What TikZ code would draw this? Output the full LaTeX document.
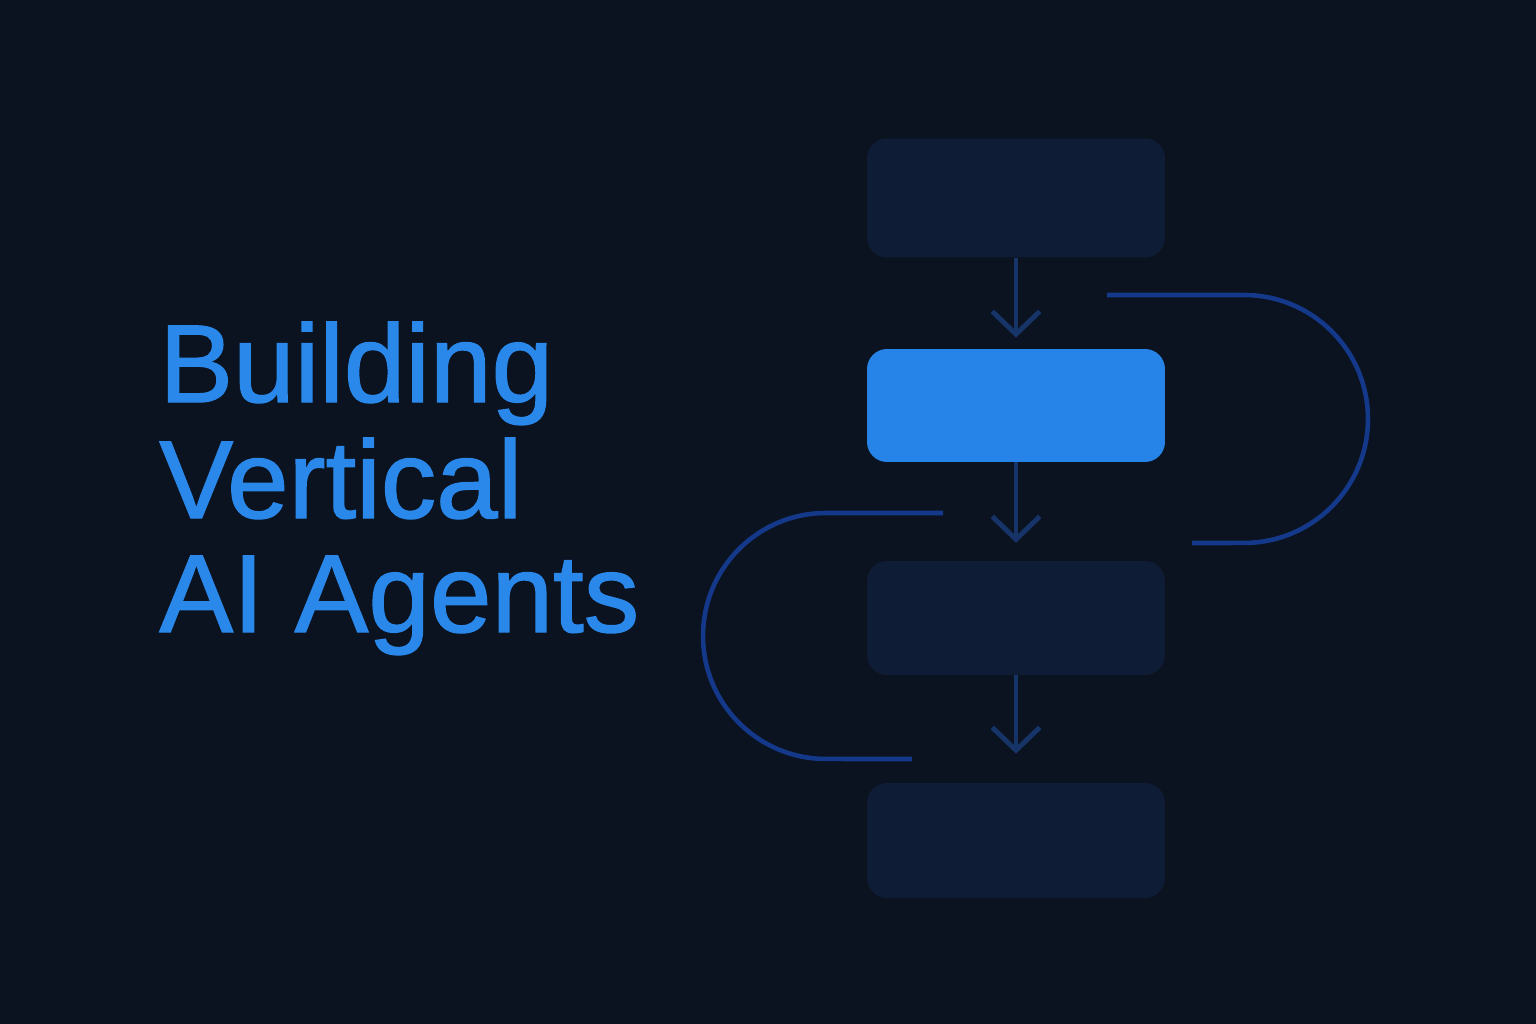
\documentclass[tikz,border=0pt]{standalone}
\usepackage{fontspec}
\setmainfont{Liberation Sans}
\newfontfamily\titlefont[FakeBold=1.2]{Liberation Sans}
\usetikzlibrary{positioning,calc}
\usetikzlibrary{arrows.meta}

\definecolor{bgdark}{HTML}{0B1320}
\definecolor{stepdark}{HTML}{0E1C36}
\definecolor{stepbright}{HTML}{2683E8}
\definecolor{flowline}{HTML}{163468}
\definecolor{loopline}{HTML}{15398A}
\definecolor{titleblue}{HTML}{2A88EA}

\tikzset{
  stepbox/.style = {rectangle, rounded corners=0.4cm, minimum width=5.96cm, inner sep=0pt},
  flow/.style = {draw=flowline, line width=2.8pt, -{Straight Barb[length=13pt,width=27pt]}},
  loop/.style = {draw=loopline, line width=2.6pt},
  title/.style = {anchor=base west, inner sep=0pt, text=titleblue, font=\titlefont\fontsize{63}{70}\selectfont}
}

\begin{document}
\begin{tikzpicture}[x=0.02cm, y=-0.02cm]
  % Background
  \fill[bgdark] (0,0) rectangle (1536,1024);
  \useasboundingbox (0,0) rectangle (1536,1024);

  % Title
  \node[title] (line1) at (159,402) {Building};
  \node[title] (line2) at (159,518) {Vertical};
  \node[title] (line3) at (159,632) {AI Agents};

  % The steps
  \node[stepbox, fill=stepdark, minimum height=2.38cm] (s1) at (1016,198) {};
  \node[stepbox, fill=stepbright, minimum height=2.26cm] (s2) at (1016,405.5) {};
  \node[stepbox, fill=stepdark, minimum height=2.28cm] (s3) at (1016,618) {};
  \node[stepbox, fill=stepdark, minimum height=2.30cm] (s4) at (1016,840.5) {};

  % Arrows
  \draw[flow, shorten >=6.3pt] (s1.south) -- (s2.north);
  \draw[flow, shorten >=10.2pt] (s2.south) -- (s3.north);
  \draw[flow, shorten >=16.5pt] (s3.south) -- (s4.north);

  % Loops
  \coordinate (rtop) at (1107,295);
  \coordinate (rbot) at (1192,543);
  \coordinate (ltop) at (943,513);
  \coordinate (lbot) at (912,759);
  \draw[loop] (rtop) -- (1244,295) arc[start angle=90, end angle=-90, radius=2.48cm] -- (rbot);
  \draw[loop] (ltop) -- (826,513) arc[start angle=90, end angle=270, radius=2.46cm] -- (lbot);
\end{tikzpicture}
\end{document}
